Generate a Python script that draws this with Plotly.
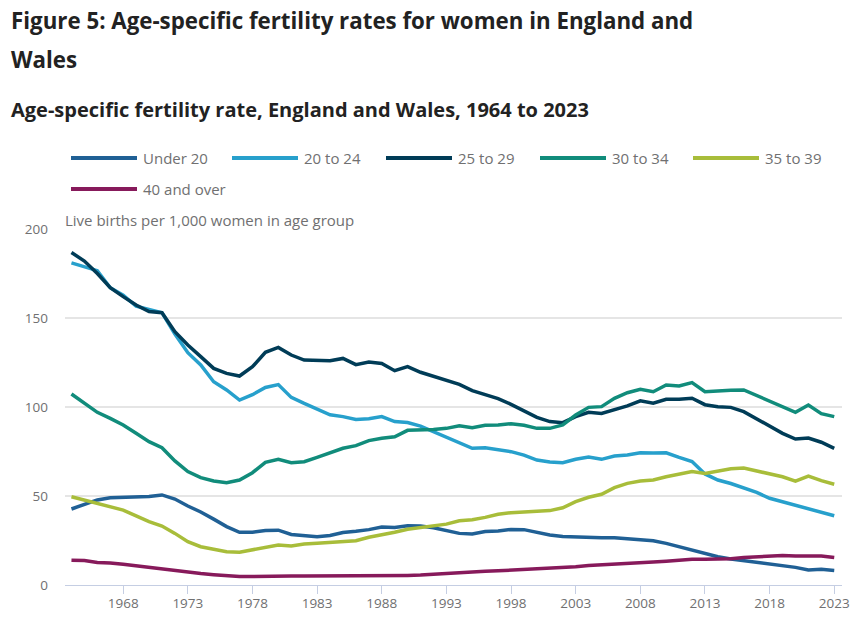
import plotly.graph_objects as go

# age-specific fertility rates, England and Wales, live births per 1,000 women
years = list(range(1964, 2024))

under_20 = [
    42.7, 45.5, 47.8, 49.0, 49.1, 49.6, 49.7, 50.6, 48.3, 44.4,
    41.0, 37.0, 32.8, 29.6, 29.6, 30.6, 30.8, 28.4, 27.6, 27.1,
    27.8, 29.5, 30.2, 31.1, 32.6, 32.3, 33.3, 33.1, 32.2, 30.8,
    29.0, 28.6, 30.0, 30.4, 31.2, 31.1, 29.4, 28.1, 27.3, 27.0,
    26.9, 26.6, 26.6, 26.0, 25.8, 24.9, 23.4, 21.5, 20.1, 17.8,
    15.9, 14.6, 13.7, 12.7, 12.1, 11.2, 9.9, 8.4, 8.8, 8.2,
]
age_20_24 = [
    181.0, 178.8, 176.6, 167.0, 162.8, 156.6, 154.8, 153.0, 141.0, 130.5,
    123.6, 114.2, 109.6, 103.9, 106.9, 111.0, 112.6, 105.4, 102.0, 98.7,
    95.6, 94.6, 93.0, 93.4, 94.6, 91.8, 91.3, 89.3, 86.1, 82.8,
    79.6, 76.8, 77.1, 76.2, 74.9, 73.0, 70.2, 69.1, 68.7, 70.6,
    71.9, 70.6, 72.5, 73.0, 74.3, 74.2, 74.3, 71.7, 69.4, 62.4,
    59.0, 57.0, 54.7, 52.0, 48.7, 46.8, 44.4, 42.7, 41.0, 38.9,
]
age_25_29 = [
    186.8, 182.0, 175.0, 167.0, 162.0, 157.3, 153.6, 153.0, 142.3, 134.8,
    128.3, 121.7, 118.9, 117.4, 122.6, 130.7, 133.5, 129.2, 126.4, 126.4,
    126.0, 127.3, 123.8, 125.3, 124.4, 120.4, 122.7, 119.5, 117.4, 114.8,
    112.7, 109.2, 107.1, 104.7, 101.5, 97.9, 94.2, 91.8, 91.2, 94.6,
    97.0, 96.4, 98.3, 100.6, 103.5, 102.1, 104.3, 104.3, 104.9, 101.3,
    100.2, 99.8, 97.4, 93.3, 88.9, 85.2, 82.0, 82.6, 80.2, 76.8,
]
age_30_34 = [
    107.3, 102.0, 97.0, 93.6, 89.9, 85.2, 80.5, 77.1, 69.7, 63.7,
    60.3, 58.4, 57.5, 59.0, 63.1, 68.9, 70.6, 68.7, 69.3, 71.7,
    74.0, 76.8, 78.3, 81.1, 82.4, 83.3, 86.9, 87.0, 87.3, 88.0,
    89.5, 88.4, 89.7, 89.9, 90.6, 89.7, 88.0, 88.0, 89.9, 95.5,
    99.8, 100.2, 104.9, 108.0, 110.0, 108.6, 112.4, 111.8, 113.7, 108.6,
    109.2, 109.4, 109.6, 106.5, 103.5, 100.2, 97.0, 101.1, 96.3, 94.6,
]
age_35_39 = [
    49.6, 47.8, 45.9, 44.0, 42.1, 38.8, 35.6, 33.1, 29.0, 24.3,
    21.5, 20.1, 18.7, 18.4, 19.7, 21.5, 22.5, 21.9, 23.0, 23.4,
    24.0, 24.3, 24.9, 26.8, 28.1, 29.6, 31.3, 32.4, 33.3, 34.2,
    36.1, 36.7, 38.0, 39.7, 40.6, 41.0, 41.6, 41.8, 43.4, 46.8,
    49.3, 51.0, 54.7, 57.1, 58.4, 59.0, 60.8, 62.4, 63.7, 62.7,
    64.0, 65.3, 65.7, 64.2, 62.4, 60.8, 58.4, 61.2, 58.6, 56.6,
]
age_40_over = [
    13.9, 13.7, 12.7, 12.4, 11.6, 10.7, 9.7, 9.2, 8.0, 7.1,
    6.4, 5.8, 5.3, 4.8, 4.8, 5.0, 5.1, 5.1, 5.0, 5.0,
    5.0, 5.1, 5.0, 5.2, 5.3, 5.3, 5.4, 5.6, 6.1, 6.6,
    6.9, 7.3, 7.7, 8.0, 8.4, 8.6, 8.8, 9.2, 9.6, 10.3,
    10.9, 11.2, 11.6, 12.2, 12.5, 12.9, 13.3, 14.0, 14.4, 14.4,
    14.5, 14.8, 15.5, 15.9, 16.2, 16.6, 16.3, 16.3, 16.3, 15.4,
]

series_names = ["Under 20", "20 to 24", "25 to 29", "30 to 34", "35 to 39", "40 and over"]
series_values = [under_20, age_20_24, age_25_29, age_30_34, age_35_39, age_40_over]
colours = ["#206095", "#27a0cc", "#003c57", "#118c7b", "#a8bd3a", "#871a5b"]

x_ticks = list(range(1968, 2024, 5))
y_ticks = [0, 50, 100, 150, 200]

W, H = 866, 631
L, R, T, B = 65, 24, 229, 46
FONT = "Open Sans"
GREY = "#707071"


# pixel -> paper helpers for the text and the hand-made legend
def px(x):
    return (x - L) / (W - L - R)


def py(y):
    return (H - B - y) / (H - T - B)


fig = go.Figure()
for name, vals, col in zip(series_names, series_values, colours):
    fig.add_trace(go.Scatter(
        x=years, y=vals, name=name, mode="lines",
        line=dict(color=col, width=3.5),
        hovertemplate="%{x}: %{y}<extra>" + name + "</extra>",
    ))

annotations = [
    dict(text="Figure 5: Age-specific fertility rates for women in England and",
         x=px(9), y=py(20), font=dict(size=22.3, color="#222222", weight=700)),
    dict(text="Wales", x=px(9), y=py(60), font=dict(size=22.3, color="#222222", weight=700)),
    dict(text="Age-specific fertility rate, England and Wales, 1964 to 2023",
         x=px(9), y=py(110), font=dict(size=20, color="#222222", weight=700)),
    dict(text="Live births per 1,000 women in age group",
         x=px(63), y=py(220), font=dict(size=15, color=GREY)),
]

# legend: two rows, line sample then label
legend_pos = [(71, 158), (232, 158), (386, 158), (540, 158), (693, 158), (71, 189)]
shapes = []
for (lx, ly), name, col in zip(legend_pos, series_names, colours):
    shapes.append(dict(type="line", xref="paper", yref="paper",
                       x0=px(lx), x1=px(lx + 66), y0=py(ly), y1=py(ly),
                       line=dict(color=col, width=4)))
    annotations.append(dict(text=name, x=px(lx + 70), y=py(ly),
                            font=dict(size=15, color=GREY)))

for a in annotations:
    a.update(xref="paper", yref="paper", xanchor="left", yanchor="middle",
             showarrow=False)
    a["font"]["family"] = FONT

fig.update_layout(
    width=W, height=H,
    margin=dict(l=L, r=R, t=T, b=B),
    paper_bgcolor="white", plot_bgcolor="white",
    showlegend=False,
    font=dict(family=FONT, size=14, color=GREY),
    annotations=annotations,
    shapes=shapes,
    xaxis=dict(
        range=[1963.5, 2023.6], tickvals=x_ticks,
        showgrid=False, zeroline=False,
        showline=True, linecolor="#c5cee3", linewidth=1.2,
        ticks="outside", tickcolor="#c5cee3", ticklen=8, tickwidth=1.2,
        ticklabelstandoff=-2,
        tickfont=dict(size=13.5, color=GREY),
    ),
    yaxis=dict(
        range=[0, 200], tickvals=y_ticks,
        showgrid=True, gridcolor="#e5e5e5", gridwidth=1.5,
        zeroline=False, ticks="", ticklabelstandoff=16,
        tickfont=dict(size=13.5, color=GREY),
    ),
)

# page has no body margin, so the figure sits at the window's top-left
fig.write_html("out.html", config={"displayModeBar": False},
               post_script="document.body.style.margin='0';")
